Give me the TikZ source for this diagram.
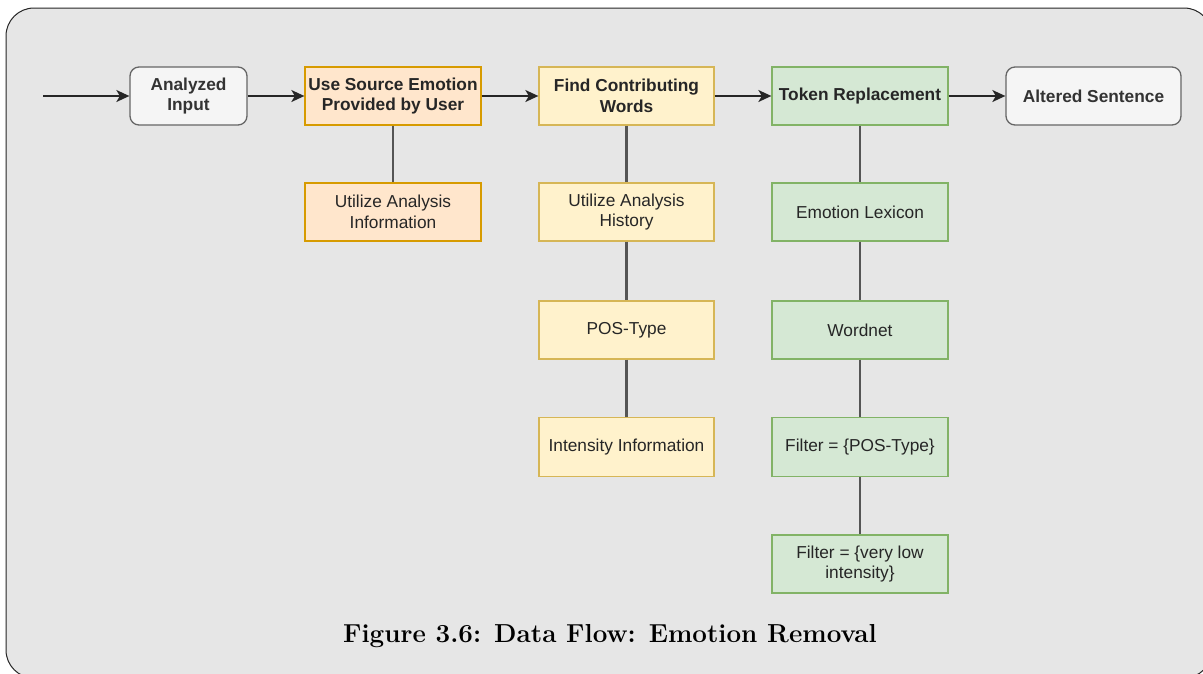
\documentclass[tikz,border=0pt]{standalone}
\usepackage{fontspec}
\setsansfont{Liberation Sans}
\usetikzlibrary{arrows.meta}
\definecolor{panelfill}{HTML}{E6E6E6}
\definecolor{greyfill}{HTML}{F5F5F5}
\definecolor{greyline}{HTML}{666666}
\definecolor{orangefill}{HTML}{FFE6CC}
\definecolor{orangeline}{HTML}{D79B00}
\definecolor{yellowfill}{HTML}{FFF2CC}
\definecolor{yellowline}{HTML}{D6B656}
\definecolor{greenfill}{HTML}{D5E8D4}
\definecolor{greenline}{HTML}{82B366}
\definecolor{textdark}{HTML}{262626}
\definecolor{linkgrey}{HTML}{555555}
\begin{document}
\begin{tikzpicture}[x=1pt,y=-1pt,
  box/.style={draw, line width=1.3pt, inner sep=0pt, align=center,
    minimum width=176pt, minimum height=58pt, text=textdark,
    font=\sffamily\fontsize{17.3}{20.7}\selectfont},
  endbox/.style={box, rounded corners=9pt, fill=greyfill, draw=greyline, text=black!80},
  orangebox/.style={box, fill=orangefill, draw=orangeline},
  yellowbox/.style={box, fill=yellowfill, draw=yellowline},
  greenbox/.style={box, fill=greenfill, draw=greenline},
  boldtext/.style={font=\sffamily\bfseries\fontsize{17.3}{20.7}\selectfont},
  flow/.style={line width=1.6pt, draw=black!85,
    -{Stealth[length=13pt,width=12pt,inset=3.5pt]}},
  link/.style={line width=2.2pt, draw=linkgrey}]
  \useasboundingbox (0,0) rectangle (1203,673);
  % rounded panel behind the whole diagram
  \draw[fill=panelfill, draw=black!85, line width=1pt, rounded corners=28pt]
    (6,8) rectangle (1212,678);

  % main row
  \node[endbox, minimum width=117pt, boldtext] (ai) at (188.5,96) {Analyzed\\Input};
  \node[orangebox, boldtext] (src) at (393,96) {Use Source Emotion\\Provided by User};
  \node[yellowbox, minimum width=175pt, boldtext] (fcw) at (626.5,96) {Find Contributing\\Words};
  \node[greenbox, boldtext] (tr) at (860,96) {Token Replacement};
  \node[endbox, minimum width=175pt, boldtext] (as) at (1093.5,96) {Altered Sentence};
  \coordinate (start) at (43,96);

  % detail columns
  \node[orangebox] (uai) at (393,212) {Utilize Analysis\\Information};

  \node[yellowbox, minimum width=175pt] (uah) at (626.5,212) {Utilize Analysis\\History};
  \node[yellowbox, minimum width=175pt] (pos) at (626.5,330) {POS-Type};
  \node[yellowbox, minimum width=175pt, minimum height=59pt] (ii) at (626.5,447) {Intensity Information};

  \node[greenbox] (el) at (860,212) {Emotion Lexicon};
  \node[greenbox] (wn) at (860,330) {Wordnet};
  \node[greenbox, minimum height=59pt] (fp) at (860,447) {Filter = \{POS-Type\}};
  \node[greenbox] (fv) at (860,564) {Filter = \{very low\\intensity\}};

  % flow arrows
  \draw[flow] (start) -- (ai);
  \draw[flow] (ai) -- (src);
  \draw[flow] (src) -- (fcw);
  \draw[flow] (fcw) -- (tr);
  \draw[flow] (tr) -- (as);

  % vertical links
  \draw[link] (src) -- (uai);
  \draw[link] (fcw) -- (uah);
  \draw[link] (uah) -- (pos);
  \draw[link] (pos) -- (ii);
  \draw[link] (tr) -- (el);
  \draw[link] (el) -- (wn);
  \draw[link] (wn) -- (fp);
  \draw[link] (fp) -- (fv);

  % caption
  \node[anchor=base, inner sep=0pt, font=\bfseries\fontsize{26}{31}\selectfont]
    (cap) at (610,642) {Figure 3.6: Data Flow: Emotion Removal};
\end{tikzpicture}
\end{document}
